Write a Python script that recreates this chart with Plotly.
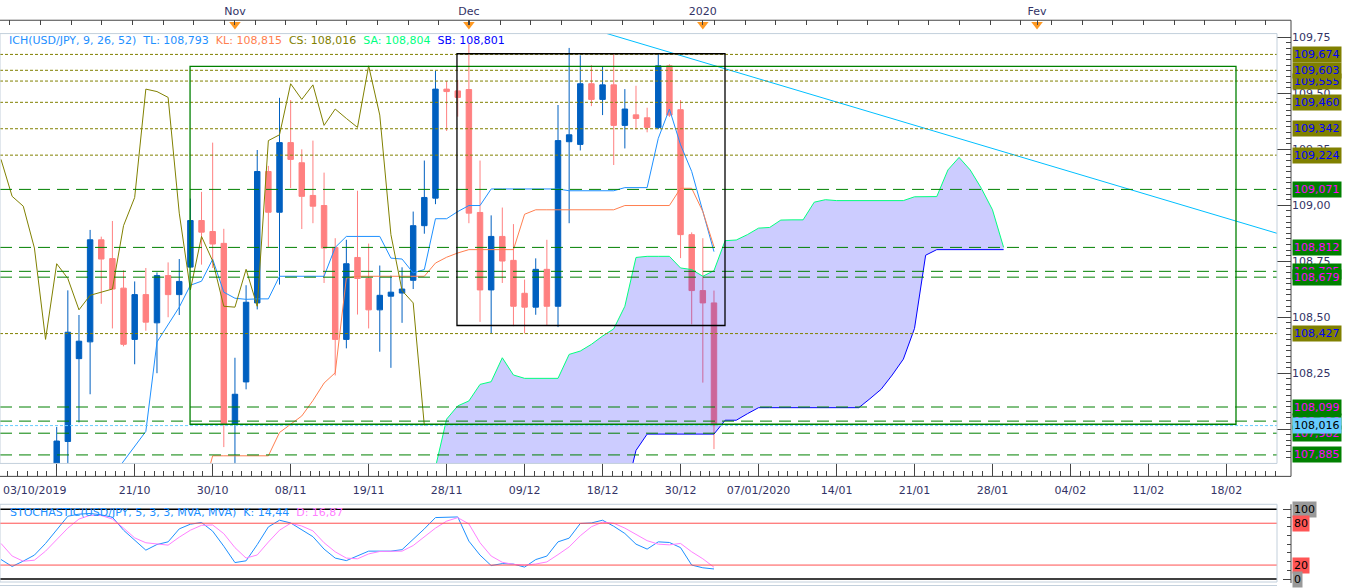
import plotly.graph_objects as go

W, H = 1349, 588


def px(x):
    return x / W


def py(y):
    return 1 - y / H


# ---- candles (bar index: 0 = 03/10/2019, one step per trading day) ----
bars = list(range(5, 65))
opens = [107.55, 107.945, 108.315, 108.39, 108.846, 108.762, 108.63, 108.401, 108.601, 108.475,
         108.686, 108.601, 108.724, 108.932, 108.883, 108.83, 108.022, 108.211, 108.564, 109.151,
         108.969, 109.28, 109.19, 109.044, 108.999, 108.812, 108.401, 108.767, 108.673, 108.533,
         108.594, 108.608, 108.665, 108.909, 109.032, 109.519, 109.511, 109.517, 108.968, 108.622,
         108.861, 108.754, 108.607, 108.545, 108.714, 108.549, 109.284, 109.272, 109.543, 109.473,
         109.538, 109.357, 109.404, 109.391, 109.348, 109.623, 109.427, 108.869, 108.619, 108.564]
highs = [108.01, 108.62, 108.51, 108.89, 108.86, 108.93, 108.71, 108.66, 108.72, 108.70,
         108.745, 108.76, 109.03, 109.06, 109.28, 108.895, 108.319, 108.643, 109.247, 109.176,
         109.48, 109.47, 109.25, 109.289, 109.146, 108.853, 108.846, 109.065, 108.829, 108.731,
         108.686, 108.723, 108.972, 109.2, 109.6, 109.555, 109.56, 109.72, 109.2, 108.955,
         108.99, 108.916, 108.668, 108.763, 108.846, 109.448, 109.703, 109.67, 109.626, 109.621,
         109.677, 109.519, 109.534, 109.436, 109.677, 109.63, 109.47, 108.879, 108.853, 108.619]
lows = [107.40, 107.80, 108.03, 108.156, 108.56, 108.45, 108.37, 108.29, 108.44, 108.25,
        108.50, 108.51, 108.72, 108.735, 108.72, 107.92, 107.80, 108.178, 108.535, 108.813,
        108.646, 109.077, 108.894, 108.92, 108.653, 108.24, 108.361, 108.512, 108.45, 108.346,
        108.274, 108.475, 108.626, 108.873, 109.005, 109.332, 109.396, 108.92, 108.479, 108.426,
        108.653, 108.46, 108.428, 108.511, 108.463, 108.456, 108.92, 109.245, 109.443, 109.403,
        109.18, 109.254, 109.339, 109.326, 109.34, 109.395, 108.764, 108.468, 108.208, 107.911]
closes = [107.947, 108.433, 108.393, 108.846, 108.76, 108.626, 108.379, 108.601, 108.478, 108.686,
          108.601, 108.66, 108.932, 108.88, 108.827, 108.022, 108.156, 108.567, 109.151, 108.969,
          109.28, 109.205, 109.04, 108.996, 108.809, 108.401, 108.739, 108.673, 108.533, 108.598,
          108.612, 108.626, 108.909, 109.035, 109.519, 109.508, 109.482, 108.965, 108.622, 108.861,
          108.751, 108.549, 108.545, 108.714, 108.549, 109.289, 109.315, 109.543, 109.473, 109.538,
          109.357, 109.43, 109.388, 109.348, 109.623, 109.403, 108.869, 108.619, 108.564, 108.016]

# ---- Ichimoku lines ----
tenkan_x = list(range(10, 65))
tenkan = [107.79, 107.855, 107.921, 107.99, 108.389, 108.467, 108.545, 108.643, 108.661, 108.759,
          108.612, 108.585, 108.58, 108.582, 108.582, 108.683, 108.683, 108.683, 108.683, 108.683,
          108.812, 108.861, 108.861, 108.861, 108.861, 108.764, 108.76, 108.698, 108.713, 108.94,
          108.94, 108.972, 108.999, 108.999, 109.073, 109.073, 109.073, 109.073, 109.073, 109.073,
          109.073, 109.065, 109.065, 109.065, 109.065, 109.065, 109.079, 109.079, 109.079, 109.299,
          109.43, 109.27, 109.151, 108.973, 108.793]
kijun_x = list(range(18, 65))
kijun = [107.70, 107.881, 107.881, 107.881, 107.881, 107.881, 107.881, 107.985, 108.02, 108.059,
         108.128, 108.206, 108.252, 108.675, 108.683, 108.683, 108.683, 108.683, 108.683, 108.683,
         108.683, 108.742, 108.768, 108.787, 108.802, 108.802, 108.802, 108.802, 108.802, 108.96,
         108.98, 108.98, 108.98, 108.98, 108.98, 108.98, 108.98, 108.98, 108.999, 108.999,
         108.999, 108.999, 108.999, 109.076, 109.076, 108.972, 108.815]
chikou_shift = 26
cloud_x = list(range(39, 91))
senkou_a = [107.83, 108.045, 108.104, 108.126, 108.2, 108.212, 108.319, 108.242, 108.227, 108.227,
            108.227, 108.227, 108.334, 108.349, 108.379, 108.416, 108.448, 108.549, 108.767, 108.772,
            108.772, 108.772, 108.72, 108.713, 108.683, 108.708, 108.842, 108.845, 108.869, 108.898,
            108.901, 108.934, 108.935, 108.935, 109.014, 109.025, 109.021, 109.021, 109.021, 109.021,
            109.021, 109.021, 109.021, 109.038, 109.039, 109.039, 109.158, 109.214, 109.158, 109.076,
            108.98, 108.812]
senkou_b = [107.0] * 17 + [107.70, 107.905] + [107.978] * 7 + [108.04, 108.04, 108.069] + \
           [108.096] * 10 + [108.136, 108.178, 108.242, 108.313, 108.45, 108.777] + [108.802] * 7

trend_x = [54.4, 114.6]
trend_y = [109.767, 108.874]

# ---- stochastic ----
stoch_x = list(range(0, 65))
stoch_k = [28, 18, 25.7, 34.3, 51, 70, 90, 93, 94, 92, 88.6, 70, 55.7, 41.4, 49.5, 53.3, 71.9, 78.6,
           81, 68.6, 47, 23.6, 26.1, 49.3, 74.7, 84.3, 80.4, 70, 60.7, 42.9, 30, 26.4, 32.9, 40, 40,
           40, 42.1, 56.3, 71.9, 88.1, 88.1, 89, 54.3, 34.3, 19.3, 22.1, 21.4, 17.1, 27.9, 32.9, 53.3,
           58.6, 79.6, 80.4, 84.3, 75.7, 65.3, 50, 42.9, 53.3, 52.4, 45, 20, 16.1, 14.44]
stoch_d = [51, 33, 25.5, 27, 40, 56, 73, 86, 91.4, 91, 86, 73, 59, 52, 50, 48.6, 60, 70, 77, 77.5,
           65, 45, 30, 34.5, 53, 70, 80, 76, 69, 52, 39, 30, 29, 36, 39.5, 40, 40, 48, 60, 73, 83,
           88, 79, 52, 33, 24, 21, 20, 21.5, 24.5, 35, 46, 62, 75, 81.5, 80, 73, 64, 55, 50, 49, 51,
           39, 29, 16.87]

# ---- axes labels & levels ----
date_ticks = [0, 5, 12, 19, 26, 33, 40, 47, 54, 61, 68, 75, 82, 89, 96, 103, 110]
date_labels = ['', '', '21/10', '30/10', '08/11', '19/11', '28/11', '09/12', '18/12', '30/12',
               '07/01/2020', '14/01', '21/01', '28/01', '04/02', '11/02', '18/02']
month_ticks = [21, 42, 63, 93]
month_labels = ['Nov', 'Dec', '2020', 'Fev']
price_ticks = [108.0, 108.25, 108.5, 108.75, 109.0, 109.25, 109.5, 109.75]
price_labels = ['108,00', '108,25', '108,50', '108,75', '109,00', '109,25', '109,50', '109,75']

olive_levels = [108.427, 109.224, 109.342, 109.460, 109.555, 109.603, 109.674]
green_levels = [109.071, 108.812, 108.705, 108.679, 108.099, 108.036, 107.982, 107.885]
last_price = 108.016
green_box = dict(x0=16.97, x1=110.86, y0=108.022, y1=109.621)
black_box = dict(x0=40.93, x1=64.99, y0=108.463, y1=109.677)

BLUE = '#0060c0'
PINK = '#ff8080'
FONT = 'DejaVu Sans'
AXC = '#333366'

fig = go.Figure()

fig.add_trace(go.Candlestick(
    x=bars, open=opens, high=highs, low=lows, close=closes,
    increasing=dict(line=dict(color=BLUE, width=1), fillcolor=BLUE),
    decreasing=dict(line=dict(color=PINK, width=1), fillcolor=PINK),
    whiskerwidth=0, showlegend=False, hoverinfo='skip'))

fig.add_trace(go.Scatter(x=tenkan_x, y=tenkan, mode='lines', line=dict(color='#1e90ff', width=1),
                         showlegend=False, hoverinfo='skip'))
fig.add_trace(go.Scatter(x=kijun_x, y=kijun, mode='lines', line=dict(color='#ff7f50', width=1),
                         showlegend=False, hoverinfo='skip'))
fig.add_trace(go.Scatter(x=[b - chikou_shift for b in bars[chikou_shift - 5:]],
                         y=closes[chikou_shift - 5:], mode='lines',
                         line=dict(color='#808000', width=1), showlegend=False, hoverinfo='skip'))
fig.add_trace(go.Scatter(x=cloud_x, y=senkou_b, mode='lines', line=dict(color='#0000ff', width=1),
                         showlegend=False, hoverinfo='skip'))
fig.add_trace(go.Scatter(x=cloud_x, y=senkou_a, mode='lines', line=dict(color='#00ff7f', width=1),
                         fill='tonexty', fillcolor='rgba(0,0,255,0.2)', showlegend=False,
                         hoverinfo='skip'))
fig.add_trace(go.Scatter(x=trend_x, y=trend_y, mode='lines', line=dict(color='#00bfff', width=1),
                         showlegend=False, hoverinfo='skip'))

# month markers on the top strip
fig.add_trace(go.Scatter(x=month_ticks, y=[0.68] * len(month_ticks), mode='markers',
                         marker=dict(symbol='triangle-down', size=10, color='#ff9922'),
                         xaxis='x3', yaxis='y3', showlegend=False, hoverinfo='skip'))
fig.add_trace(go.Scatter(x=[], y=[], xaxis='x2', yaxis='y2', showlegend=False))

# stochastic
fig.add_trace(go.Scatter(x=stoch_x, y=stoch_k, mode='lines', line=dict(color='#1e90ff', width=1),
                         xaxis='x4', yaxis='y4', showlegend=False, hoverinfo='skip'))
fig.add_trace(go.Scatter(x=stoch_x, y=stoch_d, mode='lines', line=dict(color='#ff80ff', width=1),
                         xaxis='x4', yaxis='y4', showlegend=False, hoverinfo='skip'))

shapes = []
for lv in olive_levels:
    shapes.append(dict(type='line', xref='x domain', x0=0, x1=1, yref='y', y0=lv, y1=lv,
                       line=dict(color='#808000', width=1, dash='3px,2px')))
for lv in green_levels:
    shapes.append(dict(type='line', xref='x domain', x0=0, x1=1, yref='y', y0=lv, y1=lv,
                       line=dict(color='#008000', width=1, dash='12px,7px')))
shapes.append(dict(type='line', xref='x domain', x0=0, x1=1, yref='y', y0=last_price, y1=last_price,
                   line=dict(color='#66ccff', width=1, dash='3px,2px')))
shapes.append(dict(type='rect', xref='x', yref='y', **green_box, line=dict(color='#008000', width=1.3)))
shapes.append(dict(type='rect', xref='x', yref='y', **black_box, line=dict(color='#000000', width=1.3)))

# stochastic reference lines
for lv, col, w in [(100, '#000000', 1.5), (0, '#000000', 1.5), (80, '#ff5050', 1), (20, '#ff5050', 1)]:
    shapes.append(dict(type='line', xref='x4 domain', x0=0, x1=1, yref='y4', y0=lv, y1=lv,
                       line=dict(color=col, width=w)))

# frames
LIGHT = '#c3d0dc'
shapes += [
    dict(type='rect', xref='paper', yref='paper', x0=0, x1=px(1277), y0=py(463), y1=py(31.7),
         line=dict(color=LIGHT, width=1)),
    dict(type='rect', xref='paper', yref='paper', x0=0, x1=px(1277), y0=py(582), y1=py(504),
         line=dict(color=LIGHT, width=1)),
    dict(type='line', xref='paper', yref='paper', x0=0, x1=px(1277), y0=py(585.5), y1=py(585.5),
         line=dict(color=LIGHT, width=1)),
    dict(type='line', xref='paper', yref='paper', x0=0, x1=px(1291), y0=py(18.3), y1=py(18.3),
         line=dict(color='#444444', width=1)),
    dict(type='line', xref='paper', yref='paper', x0=0, x1=px(1291), y0=py(476), y1=py(476),
         line=dict(color='#444444', width=1)),
    dict(type='line', xref='paper', yref='paper', x0=px(1291), x1=px(1291), y0=py(476), y1=py(18.3),
         line=dict(color='#444444', width=1)),
    dict(type='line', xref='paper', yref='paper', x0=px(1291), x1=px(1291), y0=py(583), y1=py(504),
         line=dict(color='#444444', width=1)),
]

annotations = []


def price_box(value, text, bg, fg, yref='y'):
    annotations.append(dict(xref='paper', x=px(1292), xanchor='left', yref=yref, y=value,
                            yanchor='middle', text=text, showarrow=False, bgcolor=bg,
                            borderpad=1, font=dict(family=FONT, size=11, color=fg)))


for lv in olive_levels:
    price_box(lv, f'{lv:.3f}'.replace('.', ','), '#808000', '#0000ff')
for lv in green_levels:
    price_box(lv, f'{lv:.3f}'.replace('.', ','), '#008000', '#ff00ff')
price_box(last_price, f'{last_price:.3f}'.replace('.', ','), '#66ccff', '#000000')

for lv, bg in [(100, '#999999'), (80, '#ff5555'), (20, '#ff5555'), (0, '#999999')]:
    price_box(lv, str(lv), bg, '#000000', yref='y4')

sp = '&nbsp;&nbsp;'
legend = sp.join([
    "<span style='color:#1e90ff'>ICH(USD/JPY, 9, 26, 52)" + sp + "TL: 108,793</span>",
    "<span style='color:#ff7f50'>KL: 108,815</span>",
    "<span style='color:#808000'>CS: 108,016</span>",
    "<span style='color:#00ff7f'>SA: 108,804</span>",
    "<span style='color:#0000ff'>SB: 108,801</span>",
])
annotations.append(dict(xref='paper', yref='paper', x=px(7), y=py(38.5), xanchor='left',
                        yanchor='middle', text=legend, showarrow=False,
                        font=dict(family=FONT, size=11)))
stoch_legend = ("<span style='color:#1e90ff'>STOCHASTIC(USD/JPY, 5, 3, 3, MVA, MVA)" + sp +
                "K: 14,44</span>" + sp + "<span style='color:#ff80ff'>D: 16,87</span>")
annotations.append(dict(xref='paper', yref='paper', x=px(8), y=py(512), xanchor='left',
                        yanchor='middle', text=stoch_legend, showarrow=False,
                        font=dict(family=FONT, size=11)))
annotations.append(dict(xref='paper', yref='paper', x=px(1), y=py(490), xanchor='left',
                        yanchor='middle', text='03/10/2019', showarrow=False,
                        font=dict(family=FONT, size=11, color=AXC)))

xrange = [-0.09, 114.54]
xdom = [0, px(1277)]
tickfont = dict(family=FONT, size=11, color=AXC)

fig.update_layout(
    width=W, height=H,
    margin=dict(l=0, r=0, t=0, b=0),
    paper_bgcolor='white', plot_bgcolor='white',
    showlegend=False,
    font=dict(family=FONT, size=11, color=AXC),
    shapes=shapes, annotations=annotations,
    xaxis=dict(domain=xdom, range=xrange, anchor='y', showticklabels=False, ticks='',
               showgrid=False, zeroline=False, rangeslider=dict(visible=False)),
    yaxis=dict(domain=[py(463), py(31.7)], range=[107.847, 109.767], anchor='free',
               position=px(1291), side='right', tickmode='array', tickvals=price_ticks,
               ticktext=price_labels, ticks='inside', ticklen=14, tickcolor='#444444',
               tickfont=tickfont, showgrid=False, zeroline=False, showline=False,
               minor=dict(ticks='inside', ticklen=5, tick0=108, dtick=0.025,
                          tickcolor='#444444', showgrid=False)),
    xaxis2=dict(domain=xdom, range=xrange, matches='x', anchor='y2', side='bottom',
                tickmode='array', tickvals=date_ticks, ticktext=date_labels, ticks='inside',
                ticklen=13, tickcolor='#444444', tickfont=tickfont, ticklabelstandoff=6,
                showgrid=False, zeroline=False, showline=False,
                minor=dict(ticks='inside', ticklen=5, tick0=5, dtick=0.875,
                           tickcolor='#444444', showgrid=False)),
    yaxis2=dict(domain=[py(476), py(463)], range=[0, 1], visible=False, anchor='x2'),
    xaxis3=dict(domain=xdom, range=xrange, matches='x', anchor='y3', side='top',
                tickmode='array', tickvals=month_ticks, ticktext=month_labels, ticks='inside',
                ticklen=5, tickcolor='#444444', tickfont=tickfont, ticklabelstandoff=2,
                showgrid=False, zeroline=False, showline=False,
                minor=dict(ticks='inside', ticklen=5, tick0=0.8, dtick=2.75,
                           tickcolor='#444444', showgrid=False)),
    yaxis3=dict(domain=[py(31.7), py(18.3)], range=[0, 1], visible=False, anchor='x3'),
    xaxis4=dict(domain=xdom, range=xrange, matches='x', anchor='y4', visible=False),
    yaxis4=dict(domain=[py(583), py(504)], range=[-5.714, 107.143], anchor='free',
                position=px(1291), side='right', tickmode='array', tickvals=[0, 100],
                ticks='inside', ticklen=8, tickcolor='#444444', showticklabels=False,
                showgrid=False, zeroline=False, showline=False,
                minor=dict(ticks='inside', ticklen=4, tick0=0, dtick=12.5,
                           tickcolor='#444444', showgrid=False)),
)

# the page body has a default 8px margin; drop it so the figure sits at the window origin
fig.write_html('out.html', config={'displayModeBar': False},
               post_script="document.body.style.margin='0';document.body.style.overflow='hidden';")
